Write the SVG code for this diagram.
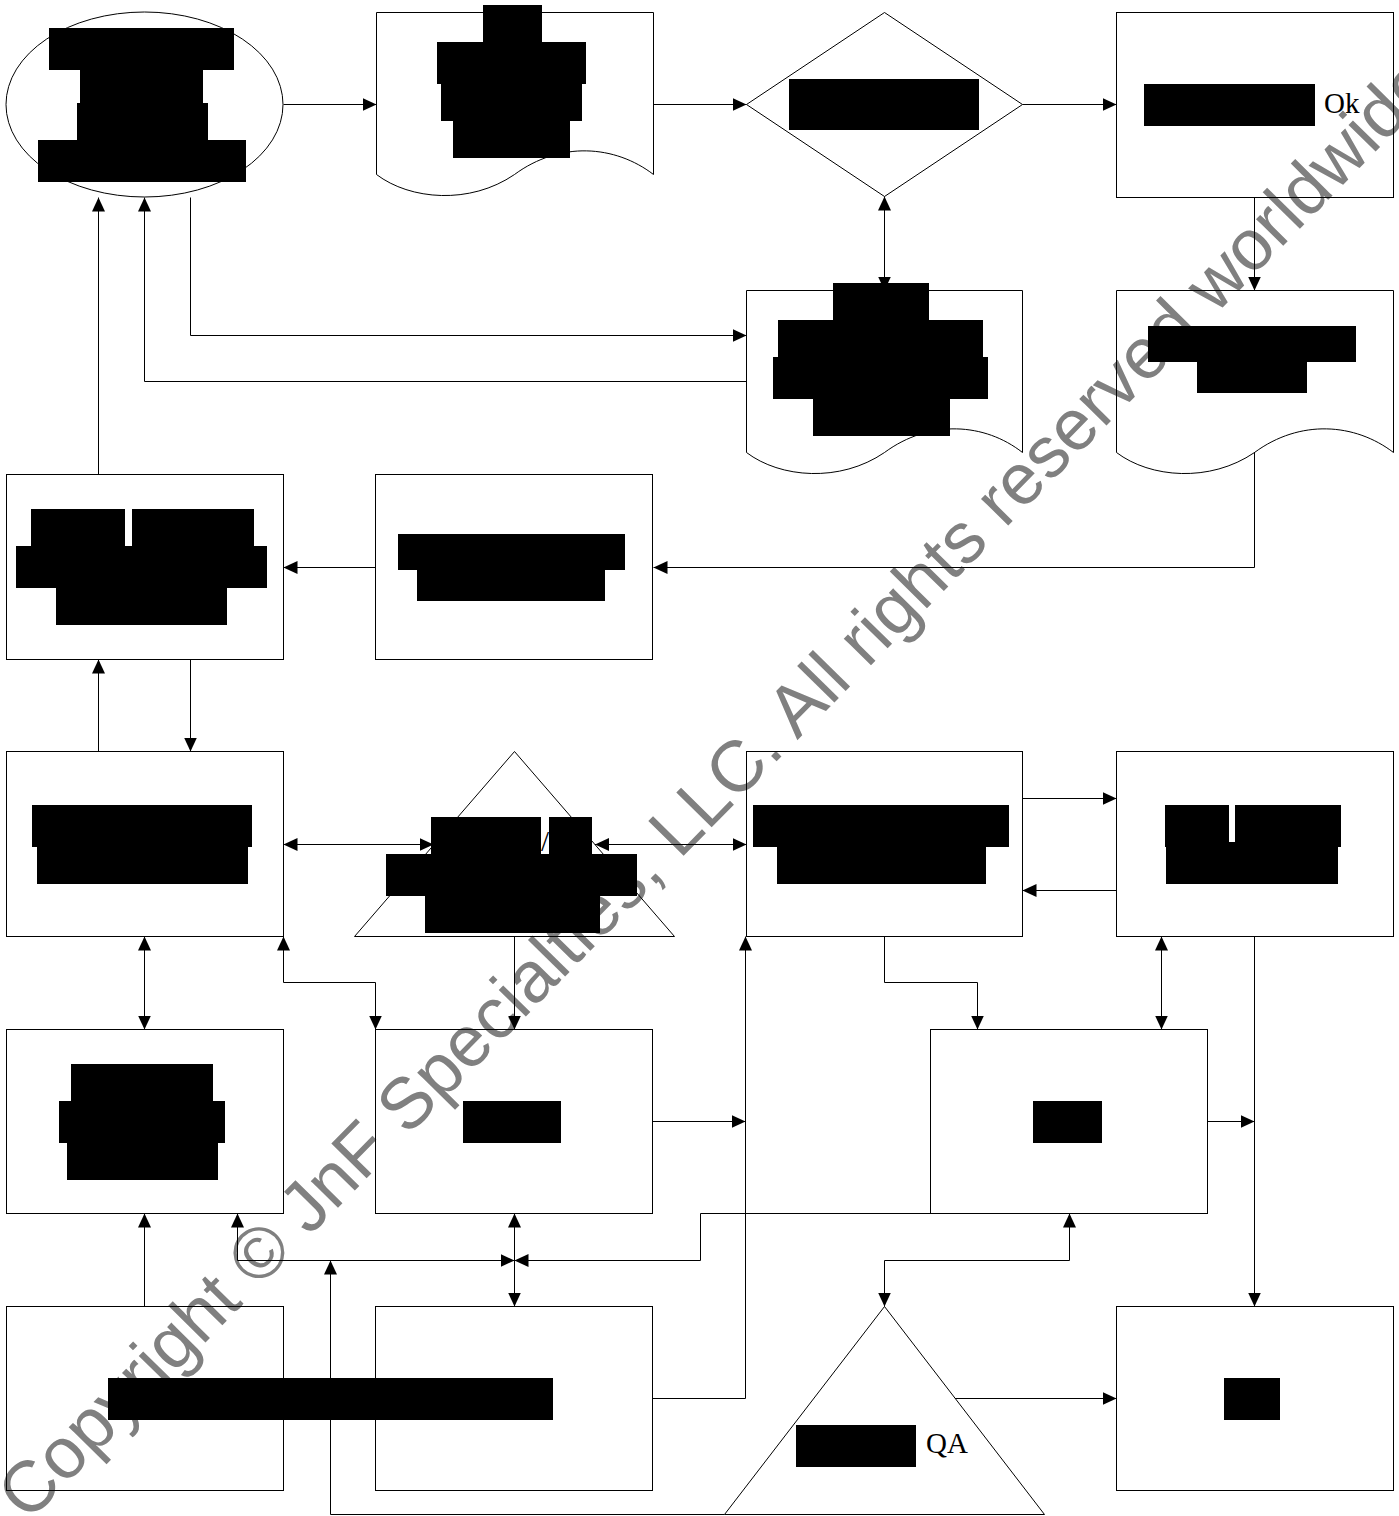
<svg xmlns="http://www.w3.org/2000/svg" width="1399" height="1516" viewBox="0 0 1399 1516">
<style>
.s{fill:none;stroke:#000;stroke-width:1}
.c{fill:none;stroke:#000;stroke-width:1}
.b{fill:#000;stroke:none}
.t{font-family:"Liberation Serif","Times New Roman",serif;font-size:29px;fill:#000}
.wm{font-family:"Liberation Sans",Arial,sans-serif;font-size:72px;fill:#808080}
</style>
<defs>
<marker id="a" markerWidth="14" markerHeight="13" refX="14" refY="6.5" orient="auto-start-reverse" markerUnits="userSpaceOnUse">
<path d="M0,0 L14,6.5 L0,13 Z" fill="#000"/>
</marker>
</defs>
<rect width="1399" height="1516" fill="#fff"/>
<text class="wm" x="28" y="1523" transform="rotate(-45.5 28 1523)">Copyright © JnF Specialties, LLC. All rights reserved worldwide</text>
<g id="connectors">
<path class="c" marker-end="url(#a)" d="M283.5,104.5 H376.5"/>
<path class="c" marker-end="url(#a)" d="M653.5,104.5 H746.5"/>
<path class="c" marker-end="url(#a)" d="M1022.5,104.5 H1116.5"/>
<path class="c" marker-start="url(#a)" marker-end="url(#a)" d="M884.5,196.5 V290.5"/>
<path class="c" marker-end="url(#a)" d="M1254.5,197.5 V290.5"/>
<path class="c" marker-end="url(#a)" d="M190.5,197.5 V335.5 H746.5"/>
<path class="c" marker-end="url(#a)" d="M746.5,381.5 H144.5 V197.5"/>
<path class="c" marker-end="url(#a)" d="M98.5,474.5 V197.5"/>
<path class="c" marker-end="url(#a)" d="M1254.5,452 V567.5 H653.5"/>
<path class="c" marker-end="url(#a)" d="M375.5,567.5 H283.5"/>
<path class="c" marker-end="url(#a)" d="M98.5,751.5 V659.5"/>
<path class="c" marker-end="url(#a)" d="M190.5,659.5 V751.5"/>
<path class="c" marker-start="url(#a)" marker-end="url(#a)" d="M283.5,844.5 H433.5"/>
<path class="c" marker-start="url(#a)" marker-end="url(#a)" d="M595,844.5 H746.5"/>
<path class="c" marker-end="url(#a)" d="M1022.5,798.5 H1116.5"/>
<path class="c" marker-end="url(#a)" d="M1116.5,890.5 H1022.5"/>
<path class="c" marker-start="url(#a)" marker-end="url(#a)" d="M144.5,936.5 V1029.5"/>
<path class="c" marker-start="url(#a)" marker-end="url(#a)" d="M283.5,936.5 V982.5 H375.5 V1029.5"/>
<path class="c" marker-end="url(#a)" d="M514.5,936.5 V1029.5"/>
<path class="c" marker-end="url(#a)" d="M884.5,936.5 V982.5 H977.5 V1029.5"/>
<path class="c" marker-start="url(#a)" marker-end="url(#a)" d="M1161.5,936.5 V1029.5"/>
<path class="c" marker-end="url(#a)" d="M1254.5,936.5 V1306.5"/>
<path class="c" marker-end="url(#a)" d="M652.5,1121.5 H745.5"/>
<path class="c" marker-end="url(#a)" d="M652.5,1398.5 H745.5 V936.5"/>
<path class="c" marker-end="url(#a)" d="M1207.5,1121.5 H1254.5"/>
<path class="c" marker-start="url(#a)" marker-end="url(#a)" d="M514.5,1213.5 V1306.5"/>
<path class="c" marker-start="url(#a)" marker-end="url(#a)" d="M237.5,1213.5 V1260.5 H514.5"/>
<path class="c" marker-end="url(#a)" d="M930.5,1213.5 H700.5 V1260.5 H514.5"/>
<path class="c" marker-end="url(#a)" d="M724.5,1514.5 H330.5 V1260.5"/>
<path class="c" marker-end="url(#a)" d="M144.5,1306.5 V1213.5"/>
<path class="c" marker-start="url(#a)" marker-end="url(#a)" d="M1069.5,1213.5 V1260.5 H884.5 V1306.5"/>
<path class="c" marker-end="url(#a)" d="M955,1398.5 H1116.5"/>
</g>
<g id="n-start">
<ellipse class="s" cx="144.5" cy="104.5" rx="138.5" ry="92.5"/>
<rect class="b" x="49" y="28" width="185" height="42"/>
<rect class="b" x="80" y="70" width="123" height="33"/>
<rect class="b" x="77" y="103" width="131" height="37"/>
<rect class="b" x="38" y="140" width="208" height="42"/>
</g>
<g id="n-doc1">
<path class="s" d="M376.5,12.5 H653.5 V174.5 C615,145 560,141 514.5,174.5 C470,205 410,200 376.5,174.5 Z"/>
<rect class="b" x="483" y="5" width="59" height="37"/>
<rect class="b" x="437" y="42" width="149" height="42"/>
<rect class="b" x="441" y="84" width="141" height="37"/>
<rect class="b" x="453" y="121" width="117" height="37"/>
</g>
<g id="n-decision">
<path class="s" d="M884.5,12.5 L1022.5,104.5 L884.5,196.5 L746.5,104.5 Z"/>
<rect class="b" x="789" y="79" width="190" height="51"/>
</g>
<g id="n-ok">
<rect class="s" x="1116.5" y="12.5" width="277" height="185"/>
<rect class="b" x="1144" y="84" width="171" height="42"/>
<text class="t" x="1324" y="113">Ok</text>
</g>
<g id="n-doc2">
<path class="s" d="M746.5,290.5 H1022.5 V452.5 C985,423 930,419 884.5,452.5 C840,483 780,478 746.5,452.5 Z"/>
<rect class="b" x="833" y="283" width="96" height="37"/>
<rect class="b" x="778" y="320" width="205" height="37"/>
<rect class="b" x="773" y="357" width="215" height="42"/>
<rect class="b" x="813" y="399" width="137" height="37"/>
</g>
<g id="n-doc3">
<path class="s" d="M1116.5,290.5 H1393.5 V452.5 C1355,423 1300,419 1254.5,452.5 C1210,483 1150,478 1116.5,452.5 Z"/>
<rect class="b" x="1148" y="326" width="208" height="36"/>
<rect class="b" x="1197" y="362" width="110" height="31"/>
</g>
<g id="n-a">
<rect class="s" x="6.5" y="474.5" width="277" height="185"/>
<rect class="b" x="31" y="509" width="94" height="37"/>
<rect class="b" x="132" y="509" width="122" height="37"/>
<rect class="b" x="16" y="546" width="251" height="42"/>
<rect class="b" x="56" y="588" width="171" height="37"/>
</g>
<g id="n-b">
<rect class="s" x="375.5" y="474.5" width="277" height="185"/>
<rect class="b" x="398" y="534" width="227" height="36"/>
<rect class="b" x="417" y="570" width="188" height="31"/>
</g>
<g id="n-c">
<rect class="s" x="6.5" y="751.5" width="277" height="185"/>
<rect class="b" x="32" y="805" width="220" height="42"/>
<rect class="b" x="37" y="847" width="211" height="37"/>
</g>
<g id="n-tri">
<path class="s" d="M514.5,751.5 L674.5,936.5 L354.5,936.5 Z"/>
<text class="t" x="541" y="851">/</text>
<rect class="b" x="431" y="817" width="110" height="37"/>
<rect class="b" x="549" y="817" width="43" height="37"/>
<rect class="b" x="386" y="854" width="251" height="42"/>
<rect class="b" x="425" y="896" width="175" height="37"/>
</g>
<g id="n-d">
<rect class="s" x="746.5" y="751.5" width="276" height="185"/>
<rect class="b" x="753" y="805" width="256" height="42"/>
<rect class="b" x="777" y="847" width="209" height="37"/>
</g>
<g id="n-e">
<rect class="s" x="1116.5" y="751.5" width="277" height="185"/>
<rect class="b" x="1165" y="805" width="64" height="42"/>
<rect class="b" x="1235" y="805" width="106" height="42"/>
<rect class="b" x="1228" y="842" width="8" height="5"/>
<rect class="b" x="1166" y="847" width="172" height="37"/>
</g>
<g id="n-f">
<rect class="s" x="6.5" y="1029.5" width="277" height="184"/>
<rect class="b" x="71" y="1064" width="142" height="37"/>
<rect class="b" x="59" y="1101" width="166" height="42"/>
<rect class="b" x="67" y="1143" width="151" height="37"/>
</g>
<g id="n-g">
<rect class="s" x="375.5" y="1029.5" width="277" height="184"/>
<rect class="b" x="463" y="1101" width="98" height="42"/>
</g>
<g id="n-h">
<rect class="s" x="930.5" y="1029.5" width="277" height="184"/>
<rect class="b" x="1033" y="1101" width="69" height="42"/>
</g>
<g id="n-i">
<rect class="s" x="6.5" y="1306.5" width="277" height="184"/>
</g>
<g id="n-j">
<rect class="s" x="375.5" y="1306.5" width="277" height="184"/>
<rect class="b" x="108" y="1378" width="445" height="42"/>
</g>
<g id="n-qa">
<path class="s" d="M884.5,1306.5 L1044.5,1514.5 L724.5,1514.5 Z"/>
<rect class="b" x="796" y="1425" width="120" height="42"/>
<text class="t" x="926" y="1453">QA</text>
</g>
<g id="n-k">
<rect class="s" x="1116.5" y="1306.5" width="277" height="184"/>
<rect class="b" x="1224" y="1378" width="56" height="42"/>
</g>
</svg>
